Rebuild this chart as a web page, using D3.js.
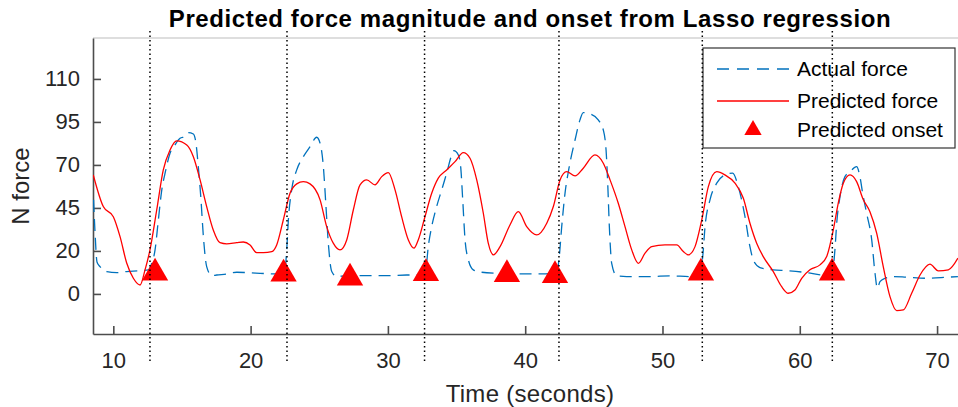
<html>
<head>
    <meta charset="utf-8">
    <title>Predicted force magnitude and onset</title>
    <style>
        body { margin: 0; padding: 0; background: white; }
        svg { font-family: "Liberation Sans", Arial, sans-serif; }
        .axis path, .axis line { stroke: #4d4d4d; stroke-width: 1.6; }
        .axis text { fill: #262626; font-size: 22px; }
    </style>
</head>
<body>
<div id="chart"></div>
<script src="https://d3js.org/d3.v7.min.js"></script>
<script>
// ---- data (time in s, force in plot units) ----
var actualT = [8.56, 8.67, 8.81, 9.03, 9.52, 10.25, 10.98, 11.95, 12.55, 12.8, 13.04, 13.28, 13.53, 13.77, 14.13, 14.49, 14.86, 15.22, 15.46, 15.83, 16.02, 16.19, 16.37, 16.56, 16.8, 17.17, 17.53, 18.26, 18.99, 19.72, 20.69, 21.65, 22.46, 22.63, 22.75, 22.99, 23.36, 23.84, 24.33, 24.81, 25.06, 25.3, 25.49, 25.66, 25.91, 26.27, 27.0, 28.46, 29.91, 31.37, 32.34, 32.78, 32.94, 33.19, 33.55, 33.92, 34.28, 34.65, 34.81, 35.13, 35.3, 35.45, 35.62, 35.86, 36.22, 36.83, 38.17, 39.62, 41.08, 42.29, 42.48, 42.66, 42.9, 43.21, 43.63, 43.99, 44.23, 44.72, 45.32, 45.69, 45.89, 46.01, 46.13, 46.3, 46.66, 47.39, 49.09, 50.55, 52.0, 52.73, 52.93, 53.1, 53.46, 53.95, 54.55, 55.11, 55.52, 56.01, 56.37, 56.61, 57.1, 58.07, 59.05, 60.5, 61.71, 62.32, 62.56, 62.69, 62.93, 63.29, 63.66, 64.14, 64.38, 64.58, 64.87, 65.24, 65.48, 65.65, 65.84, 66.21, 66.81, 67.79, 69.24, 70.7, 71.52];
var actualF = [54.7, 35.5, 18.6, 15.9, 13.0, 12.4, 13.0, 13.5, 14.0, 17.8, 25.6, 43.0, 60.5, 70.2, 81.8, 86.6, 90.5, 91.5, 93.8, 93.0, 87.6, 74.0, 56.6, 33.3, 15.9, 10.6, 11.0, 11.6, 12.6, 12.4, 12.0, 11.6, 12.0, 25.6, 43.0, 60.5, 72.1, 79.8, 85.6, 91.1, 87.6, 74.0, 50.8, 29.5, 13.0, 10.1, 10.6, 10.6, 10.6, 11.0, 11.0, 15.9, 27.5, 39.1, 50.8, 60.5, 70.2, 80.8, 83.3, 80.8, 74.0, 54.7, 31.4, 19.8, 14.0, 12.6, 12.0, 11.6, 11.6, 12.0, 21.7, 39.1, 58.5, 74.0, 89.5, 101.2, 105.4, 104.7, 101.2, 95.3, 83.7, 64.4, 39.1, 17.8, 10.5, 10.1, 10.1, 10.5, 10.1, 12.0, 21.7, 39.1, 54.7, 64.4, 69.2, 70.2, 62.4, 44.9, 27.5, 19.8, 15.3, 14.0, 13.5, 12.4, 11.0, 11.0, 25.6, 41.1, 56.6, 68.2, 71.1, 74.0, 68.2, 58.5, 46.9, 31.4, 12.0, 3.3, 7.2, 9.1, 10.1, 9.7, 9.1, 9.7, 10.1];

var predT = [8.54, 9.27, 10.0, 10.49, 10.98, 11.46, 11.95, 12.31, 12.67, 13.16, 13.64, 14.13, 14.62, 15.35, 15.83, 16.32, 16.8, 17.28, 17.77, 18.26, 18.99, 19.47, 19.96, 20.44, 20.93, 21.54, 21.9, 22.38, 22.87, 23.36, 23.84, 24.33, 25.06, 25.54, 26.02, 26.51, 27.0, 27.48, 27.97, 28.46, 29.06, 29.55, 30.03, 30.52, 31.0, 31.49, 31.9, 32.21, 32.7, 33.19, 33.67, 34.28, 34.89, 35.49, 35.98, 36.47, 36.95, 37.31, 37.68, 38.17, 38.89, 39.5, 40.11, 40.84, 41.57, 42.05, 42.54, 43.02, 43.63, 44.23, 45.08, 45.69, 46.18, 46.78, 47.27, 47.76, 48.24, 48.73, 49.21, 50.18, 51.04, 51.52, 51.88, 52.37, 52.86, 53.34, 53.95, 54.55, 55.28, 55.89, 56.37, 56.86, 57.34, 58.07, 58.68, 59.16, 59.65, 60.14, 60.74, 61.47, 61.96, 62.44, 62.8, 63.17, 63.66, 64.14, 64.63, 65.11, 65.6, 66.08, 66.57, 67.06, 67.54, 68.15, 68.76, 69.48, 70.09, 70.82, 71.52];
var predF = [69.2, 50.8, 44.9, 33.3, 17.8, 9.1, 5.2, 14.0, 25.6, 48.8, 72.1, 83.7, 89.0, 86.6, 79.8, 66.3, 50.8, 37.2, 29.8, 29.1, 29.8, 30.2, 28.5, 24.0, 24.0, 24.6, 28.5, 43.0, 58.5, 64.0, 65.3, 64.0, 54.7, 39.1, 29.5, 25.6, 31.4, 48.8, 63.4, 66.3, 63.4, 68.2, 70.5, 60.5, 44.9, 31.4, 26.6, 31.4, 44.9, 58.5, 67.3, 72.1, 76.9, 82.2, 78.9, 66.3, 46.9, 29.5, 22.7, 27.5, 40.1, 47.8, 39.1, 34.3, 41.1, 50.8, 66.3, 71.1, 68.6, 73.1, 80.8, 76.0, 66.3, 52.7, 39.1, 25.6, 17.8, 23.7, 27.5, 28.5, 28.5, 24.6, 22.7, 27.5, 43.0, 62.4, 71.1, 69.2, 64.4, 55.6, 41.1, 29.5, 21.7, 13.0, 4.2, 0.4, 2.3, 9.1, 14.0, 16.9, 21.7, 37.2, 52.7, 64.4, 69.2, 65.3, 54.7, 47.8, 35.3, 15.9, -1.6, -9.7, -9.3, 0.4, 11.0, 17.3, 13.4, 14.0, 20.8];

var onsetT = [13.04, 22.4, 27.24, 32.77, 38.67, 42.17, 52.8, 62.35];
var onsetF = [12.2, 11.6, 9.3, 11.9, 11.3, 10.8, 12.2, 12.2];

var actualOnsetT = [12.67, 22.65, 32.67, 42.46, 52.9, 62.37];

var xTicks = [10, 20, 30, 40, 50, 60, 70];
var yTicks = [0, 25, 50, 75, 100, 125];
var yTickLabels = ["0", "20", "45", "70", "95", "110"];

var legendLabels = ["Actual force", "Predicted force", "Predicted onset"];

// ---- layout ----
// note: "top" is taken by window.top, so use a margin object
var W = 958, H = 407;
var box = { left: 93, top: 38, bottom: 334, right: 967 };

var svg = d3.select("#chart").append("svg")
    .attr("width", W)
    .attr("height", H);

var x = d3.scaleLinear().domain([8.52, 72.18]).range([box.left, box.right]);
var y = d3.scaleLinear().domain([-23.3, 148.8]).range([box.bottom, box.top]);

svg.append("clipPath").attr("id", "plotclip")
    .append("rect")
    .attr("x", box.left).attr("y", box.top)
    .attr("width", box.right - box.left).attr("height", box.bottom - box.top);

// top box line
svg.append("line")
    .attr("x1", box.left).attr("x2", box.right)
    .attr("y1", box.top).attr("y2", box.top)
    .attr("stroke", "#bdbdbd")
    .attr("stroke-width", 1);

// axes (ticks point inward, like matlab)
svg.append("g")
    .attr("class", "axis")
    .attr("transform", "translate(0," + box.bottom + ")")
    .call(d3.axisBottom(x).tickValues(xTicks).tickSizeInner(-8).tickSizeOuter(0).tickPadding(18));

svg.append("g")
    .attr("class", "axis")
    .attr("transform", "translate(" + box.left + ",0)")
    .call(d3.axisLeft(y).tickValues(yTicks)
        .tickFormat(function (d, i) { return yTickLabels[i]; })
        .tickSizeInner(-8).tickSizeOuter(0).tickPadding(13));

svg.selectAll(".axis").attr("font-family", null);

var plot = svg.append("g").attr("clip-path", "url(#plotclip)");

var actual = actualT.map(function (t, i) { return [t, actualF[i]]; });
var pred = predT.map(function (t, i) { return [t, predF[i]]; });

var line = d3.line()
    .x(function (d) { return x(d[0]); })
    .y(function (d) { return y(d[1]); })
    .curve(d3.curveMonotoneX);

plot.append("path")
    .datum(actual)
    .attr("d", line)
    .attr("fill", "none")
    .attr("stroke", "#0072BD")
    .attr("stroke-width", 1.3)
    .attr("stroke-dasharray", "12,7");

plot.append("path")
    .datum(pred)
    .attr("d", line)
    .attr("fill", "none")
    .attr("stroke", "#ff0000")
    .attr("stroke-width", 1.3);

var tri = d3.symbol().type(d3.symbolTriangle).size(300);

svg.append("g")
    .selectAll("path")
    .data(onsetT)
    .enter()
    .append("path")
    .attr("d", tri)
    .attr("transform", function (d, i) { return "translate(" + x(d) + "," + y(onsetF[i]) + ")"; })
    .attr("fill", "#ff0000");

// legend
var lg = svg.append("g");
lg.append("rect")
    .attr("x", 703).attr("y", 48)
    .attr("width", 252).attr("height", 100)
    .attr("fill", "white")
    .attr("stroke", "#333")
    .attr("stroke-width", 1.2);

var rowY = [69, 101, 130];
lg.append("line")
    .attr("x1", 717).attr("x2", 789)
    .attr("y1", rowY[0]).attr("y2", rowY[0])
    .attr("stroke", "#0072BD").attr("stroke-width", 1.3)
    .attr("stroke-dasharray", "12,8");
lg.append("line")
    .attr("x1", 717).attr("x2", 789)
    .attr("y1", rowY[1]).attr("y2", rowY[1])
    .attr("stroke", "#ff0000").attr("stroke-width", 1.3);
lg.append("path")
    .attr("d", d3.symbol().type(d3.symbolTriangle).size(130))
    .attr("transform", "translate(753," + rowY[2] + ")")
    .attr("fill", "#ff0000");

lg.selectAll("text")
    .data(legendLabels)
    .enter()
    .append("text")
    .attr("x", 797)
    .attr("y", function (d, i) { return rowY[i] + 7; })
    .attr("font-size", "21px")
    .attr("fill", "#000")
    .text(function (d) { return d; });

// dotted onset lines drawn on top
svg.append("g")
    .selectAll("line")
    .data(actualOnsetT)
    .enter()
    .append("line")
    .attr("x1", function (d) { return x(d); })
    .attr("x2", function (d) { return x(d); })
    .attr("y1", y(152.9))
    .attr("y2", y(-39.5))
    .attr("stroke", "#000")
    .attr("stroke-width", 1.5)
    .attr("stroke-dasharray", "1.5,3");

// titles
svg.append("text")
    .attr("x", (box.left + box.right) / 2)
    .attr("y", 27)
    .attr("text-anchor", "middle")
    .attr("font-size", "24px")
    .attr("font-weight", "bold")
    .attr("letter-spacing", "0.6px")
    .text("Predicted force magnitude and onset from Lasso regression");

svg.append("text")
    .attr("x", (box.left + box.right) / 2)
    .attr("y", 402)
    .attr("text-anchor", "middle")
    .attr("font-size", "24px")
    .attr("letter-spacing", "0.3px")
    .attr("fill", "#262626")
    .text("Time (seconds)");

svg.append("text")
    .attr("transform", "translate(29," + (box.top + box.bottom) / 2 + ") rotate(-90)")
    .attr("text-anchor", "middle")
    .attr("font-size", "24px")
    .attr("fill", "#262626")
    .text("N force");
</script>
</body>
</html>
